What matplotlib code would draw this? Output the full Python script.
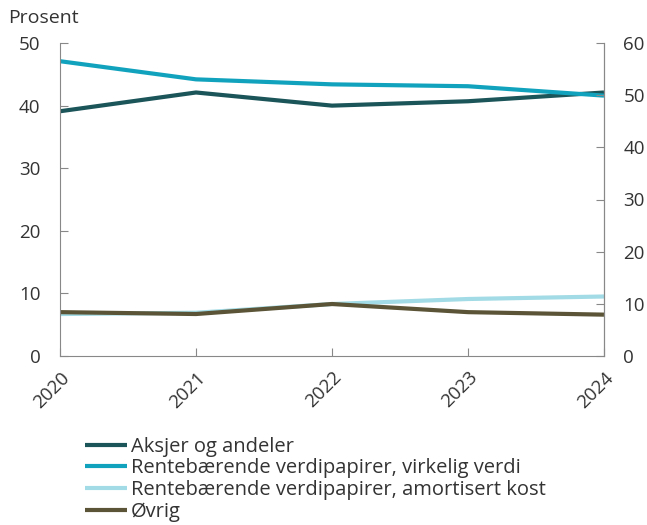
import matplotlib
matplotlib.use("Agg")
import matplotlib.pyplot as plt

plt.rcParams['font.family'] = ['Open Sans', 'DejaVu Sans']

years = ["2020", "2021", "2022", "2023", "2024"]
aksjer = [39.1, 42.1, 40.0, 40.7, 42.1]
virkelig = [47.1, 44.2, 43.4, 43.1, 41.6]
amortisert = [6.7, 6.9, 8.3, 9.1, 9.5]
ovrig = [7.0, 6.7, 8.3, 7.0, 6.6]

series = [
    ("Aksjer og andeler", aksjer, "#1b5459"),
    ("Rentebærende verdipapirer, virkelig verdi", virkelig, "#11a3bd"),
    ("Rentebærende verdipapirer, amortisert kost", amortisert, "#a2dbe5"),
    ("Øvrig", ovrig, "#5b5436"),
]

fig = plt.figure(figsize=(6.47, 5.25), dpi=100)
ax = fig.add_axes([0.0927, 0.322, 0.8408, 0.596])
x = list(range(len(years)))
handles = []
for name, vals, col in series:
    h, = ax.plot(x, vals, color=col, lw=3, label=name, solid_capstyle='butt')
    handles.append(h)

ax.set_xlim(0, 4)
ax.set_ylim(0, 50)
ax.set_yticks(range(0, 51, 10))
ax.set_xticks(x)
ax.set_xticklabels(years, rotation=45, ha='right', rotation_mode='anchor')
gc = "#888888"
for s in ['left', 'bottom', 'right']:
    ax.spines[s].set_color(gc)
ax.spines['top'].set_visible(False)
ax.tick_params(axis='both', direction='in', color=gc, labelsize=13.5, labelcolor='#333333', length=6)
ax.tick_params(axis='x', pad=9)
ax.tick_params(axis='y', pad=14)

ax2 = ax.twinx()
ax2.set_ylim(0, 60)
ax2.set_yticks(range(0, 61, 10))
for s in ['left', 'bottom', 'top']:
    ax2.spines[s].set_visible(False)
ax2.spines['right'].set_color(gc)
ax2.tick_params(axis='y', direction='in', color=gc, labelsize=13.5, labelcolor='#333333', length=6, pad=14)

fig.text(0.012, 0.965, "Prosent", fontsize=14, color='#333333', va='center', ha='left')

fig.legend(handles=handles, loc='upper left', bbox_to_anchor=(0.131, 0.168),
           frameon=False, fontsize=14.5, handlelength=2.1, handletextpad=0.2,
           labelspacing=0.08, borderpad=0, borderaxespad=0, labelcolor='#333333')

fig.savefig("out.png", dpi=100)
